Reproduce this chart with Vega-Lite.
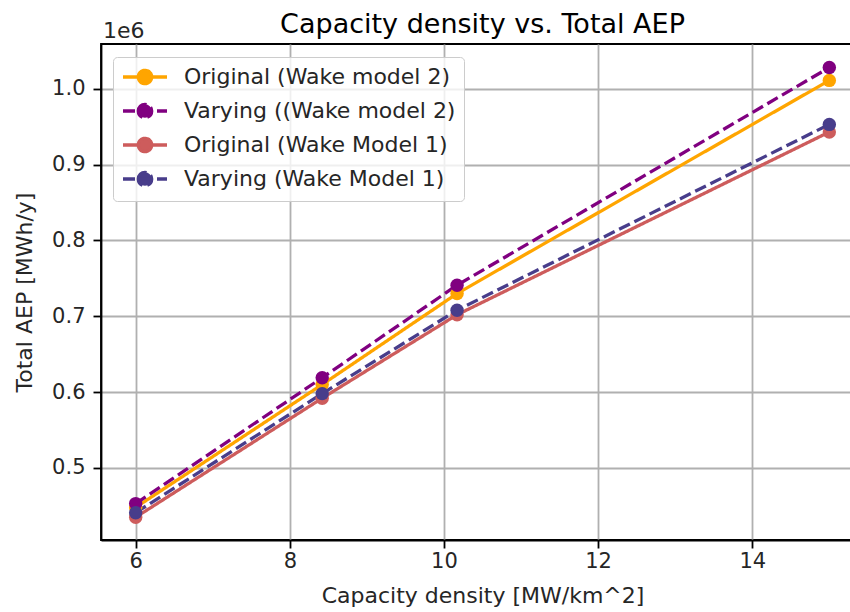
{
  "$schema": "https://vega.github.io/schema/vega-lite/v6.json",
  "width": 763,
  "height": 496,
  "autosize": {"type": "none"},
  "padding": {"left": 101, "top": 44, "right": 0, "bottom": 72},
  "background": "white",
  "title": {
    "text": "Capacity density vs. Total AEP",
    "fontSize": 27,
    "font": "DejaVu Sans",
    "fontWeight": "normal",
    "color": "black",
    "anchor": "middle",
    "baseline": "alphabetic",
    "offset": -20,
    "dy": 20
  },
  "config": {
    "view": {"stroke": "black", "strokeWidth": 1.8},
    "axis": {
      "labelFont": "DejaVu Sans",
      "titleFont": "DejaVu Sans",
      "labelFontSize": 21,
      "titleFontSize": 22,
      "labelColor": "#262626",
      "titleColor": "#262626",
      "titleFontWeight": "normal",
      "domainColor": "black",
      "domainWidth": 1.8,
      "tickColor": "black",
      "tickWidth": 1.8,
      "tickSize": 8,
      "labelPadding": 8,
      "gridColor": "#b0b0b0",
      "gridWidth": 1.8,
      "gridOpacity": 1
    },
    "legend": {
      "labelFont": "DejaVu Sans",
      "labelFontSize": 22,
      "labelColor": "#262626",
      "labelLimit": 400
    }
  },
  "data": {
    "values": [
      {"series": "\u00a0Original (Wake model 2)", "density": 6, "aep": 448000},
      {"series": "\u00a0Original (Wake model 2)", "density": 8.42, "aep": 610000},
      {"series": "\u00a0Original (Wake model 2)", "density": 10.17, "aep": 730000},
      {"series": "\u00a0Original (Wake model 2)", "density": 15, "aep": 1011000},
      {"series": "Varying ((Wake model 2)", "density": 6, "aep": 453000},
      {"series": "Varying ((Wake model 2)", "density": 8.42, "aep": 619000},
      {"series": "Varying ((Wake model 2)", "density": 10.17, "aep": 741000},
      {"series": "Varying ((Wake model 2)", "density": 15, "aep": 1028000},
      {"series": "Original (Wake Model 1)", "density": 6, "aep": 435000},
      {"series": "Original (Wake Model 1)", "density": 8.42, "aep": 592000},
      {"series": "Original (Wake Model 1)", "density": 10.17, "aep": 702000},
      {"series": "Original (Wake Model 1)", "density": 15, "aep": 943000},
      {"series": "Varying (Wake Model 1)", "density": 6, "aep": 441000},
      {"series": "Varying (Wake Model 1)", "density": 8.42, "aep": 598000},
      {"series": "Varying (Wake Model 1)", "density": 10.17, "aep": 708000},
      {"series": "Varying (Wake Model 1)", "density": 15, "aep": 953000}
    ]
  },
  "layer": [
    {
      "mark": {"type": "line", "strokeWidth": 3.3, "point": {"filled": true, "size": 180, "opacity": 1}},
      "encoding": {
        "x": {
          "field": "density", "type": "quantitative",
          "scale": {"domain": [5.55, 15.45], "nice": false, "zero": false},
          "axis": {"values": [6, 8, 10, 12, 14], "format": "d", "labelPadding": 2, "title": "Capacity density [MW/km^2]", "titlePadding": 14}
        },
        "y": {
          "field": "aep", "type": "quantitative",
          "scale": {"domain": [405000, 1059000], "nice": false, "zero": false},
          "axis": {"values": [500000, 600000, 700000, 800000, 900000, 1000000], "labelExpr": "format(datum.value/1000000, '.1f')", "title": "Total AEP [MWh/y]", "titlePadding": 15}
        },
        "color": {
          "field": "series", "type": "nominal",
          "scale": {
            "domain": ["\u00a0Original (Wake model 2)", "Varying ((Wake model 2)", "Original (Wake Model 1)", "Varying (Wake Model 1)"],
            "range": ["#FFA500", "#800080", "#CD5C5C", "#483D8B"]
          },
          "legend": {
            "title": null,
            "orient": "none",
            "legendX": 12,
            "legendY": 13,
            "symbolType": "M-2.2,0H2.2M-0.67,0A0.67,0.67 0 1 1 0.67,0A0.67,0.67 0 1 1 -0.67,0Z",
            "symbolSize": 400,
            "symbolStrokeWidth": 3.3,
            "symbolOffset": 12,
            "labelOffset": 27,
            "rowPadding": 6,
            "padding": 8,
            "fillColor": "rgba(255,255,255,0.8)",
            "strokeColor": "#cccccc",
            "cornerRadius": 4,
            "encode": {"symbols": {"update": {"fill": {"scale": "color", "field": "value"}, "fillOpacity": {"value": 1}}}}
          }
        },
        "strokeDash": {
          "field": "series", "type": "nominal",
          "scale": {
            "domain": ["\u00a0Original (Wake model 2)", "Varying ((Wake model 2)", "Original (Wake Model 1)", "Varying (Wake Model 1)"],
            "range": [[1, 0], [12, 5], [1, 0], [12, 5]]
          },
          "legend": {
            "title": null,
            "orient": "none",
            "legendX": 12,
            "legendY": 13,
            "symbolType": "M-2.2,0H2.2M-0.67,0A0.67,0.67 0 1 1 0.67,0A0.67,0.67 0 1 1 -0.67,0Z",
            "symbolSize": 400,
            "symbolStrokeWidth": 3.3,
            "symbolOffset": 12,
            "labelOffset": 27,
            "rowPadding": 6,
            "padding": 8,
            "fillColor": "rgba(255,255,255,0.8)",
            "strokeColor": "#cccccc",
            "cornerRadius": 4,
            "encode": {"symbols": {"update": {"fill": {"scale": "color", "field": "value"}, "fillOpacity": {"value": 1}}}}
          }
        }
      }
    },
    {
      "data": {"values": [{"label": "1e6"}]},
      "mark": {"type": "text", "align": "left", "baseline": "alphabetic", "font": "DejaVu Sans", "fontSize": 22, "color": "#262626", "dx": 2, "dy": -6},
      "encoding": {
        "text": {"field": "label"},
        "x": {"datum": 5.55, "type": "quantitative"},
        "y": {"datum": 1059000, "type": "quantitative"}
      }
    }
  ]
}
